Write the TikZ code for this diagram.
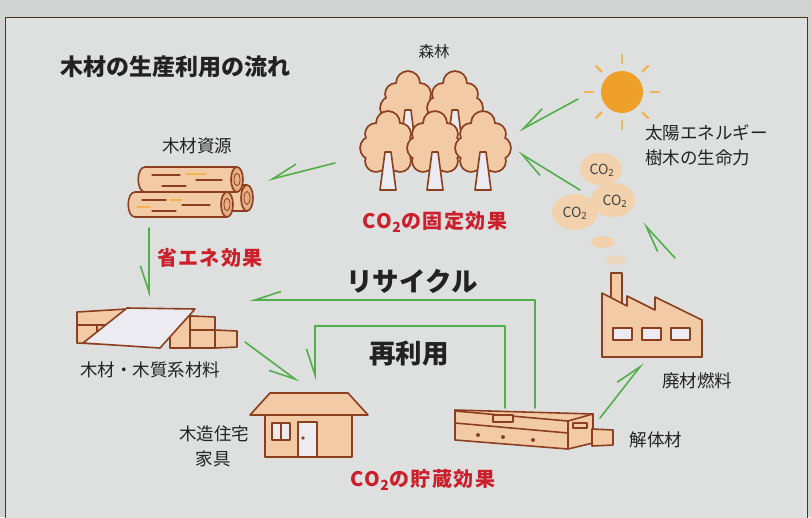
\documentclass[tikz,border=0pt]{standalone}
\usepackage{fontspec}
\setmainfont{Noto Sans CJK JP}
\usetikzlibrary{arrows.meta}

\definecolor{bgpaper}{HTML}{DDE0DF}
\definecolor{bgedge}{HTML}{D0D3D1}
\definecolor{woodfill}{HTML}{F2CBA6}
\definecolor{woodend}{HTML}{E6B084}
\definecolor{woodline}{HTML}{8C3F1F}
\definecolor{paleboard}{HTML}{ECEBF2}
\definecolor{leafgreen}{HTML}{52AE4A}
\definecolor{effectred}{HTML}{CC1F2B}
\definecolor{sunorange}{HTML}{EFA02A}
\definecolor{sunray}{HTML}{F3B451}
\definecolor{cobubble}{HTML}{F1D2AD}
\definecolor{inkgray}{HTML}{222222}

% crown of one tree, (#1,#2) = top of the crown
\newcommand{\crownat}[2]{%
  \begin{scope}[shift={(#1,#2)}]
    \foreach \cx/\cy/\cr in {0/11/11,-12/22/10,12/22/10,-16/36/11,16/36/11,-12/49/10,12/49/10,0/38/17,0/50/10}
      \draw[woodline, line width=3.6pt] (\cx,\cy) circle (\cr);
    \foreach \cx/\cy/\cr in {0/11/11,-12/22/10,12/22/10,-16/36/11,16/36/11,-12/49/10,12/49/10,0/38/17,0/50/10}
      \fill[woodfill] (\cx,\cy) circle (\cr);
  \end{scope}}
% trunk: centre x, top y, bottom y
\newcommand{\trunkat}[3]{%
  \filldraw[fill=paleboard, draw=woodline, line width=1.6pt]
    (#1-3,#2) -- (#1+3,#2) -- (#1+8,#3) -- (#1-8,#3) -- cycle;}
% log: left x, end x, top y, bottom y
\newcommand{\logat}[4]{%
  \filldraw[fill=woodfill, draw=woodline, line width=1.6pt]
    (#2,#3) -- (#1+7,#3) .. controls (#1-2,#3) and (#1-2,#4) .. (#1+7,#4) -- (#2,#4);
  \filldraw[fill=woodend, draw=woodline, line width=1.6pt] (#2,{(#3+#4)/2}) ellipse [x radius=6, y radius={(#4-#3)/2}];
  \draw[woodline, line width=0.8pt] (#2,{(#3+#4)/2}) ellipse [x radius=3, y radius={(#4-#3)/4}];}

\begin{document}
\begin{tikzpicture}[x=1pt, y=-1pt, line join=round, line cap=round,
    label/.style={text=inkgray, inner sep=0pt, font=\fontsize{17.5}{18}\selectfont},
    effect/.style={text=effectred, inner sep=0pt, font=\fontsize{20}{20}\selectfont\bfseries\addfontfeature{LetterSpace=7}},
    route/.style={text=inkgray, inner sep=0pt, font=\fontsize{26.5}{27}\selectfont\bfseries},
    bubble/.style={text=inkgray!85, inner sep=0pt, font=\fontsize{14}{14}\selectfont},
    part/.style={fill=woodfill, draw=woodline, line width=1.6pt},
    pale/.style={fill=paleboard, draw=woodline, line width=1.6pt},
    flow/.style={draw=leafgreen, line width=1.6pt},
    barbL/.style={flow, -{Straight Barb[harpoon, length=26pt, width=17pt]}},
    barbR/.style={flow, -{Straight Barb[harpoon, swap, length=26pt, width=17pt]}}]
  \useasboundingbox (0,0) rectangle (811,517);
  \fill[bgedge] (0,0) rectangle (811,517);
  \filldraw[fill=bgpaper, draw=black!60!brown, line width=0.8pt] (5,17) rectangle (807,530);

  \node[anchor=west, text=inkgray, inner sep=0pt, font=\fontsize{23}{24}\selectfont\bfseries] (title) at (60,67) {木材の生産利用の流れ};

  % forest: back row, then front row
  \crownat{408}{72} \crownat{455}{72}
  \trunkat{408}{110}{150} \trunkat{455}{110}{150}
  \crownat{388}{112} \crownat{435}{112} \crownat{483}{112}
  \trunkat{388}{152}{190} \trunkat{435}{152}{190} \trunkat{483}{152}{190}
  \node[label, font=\fontsize{15.5}{16}\selectfont] (forest) at (434,52) {森林};
  \node[effect] (fix) at (435,222) {CO\textsubscript{2}の固定効果};

  % sun
  \fill[sunorange] (622,92) circle (21);
  \foreach \a in {0,45,...,315}
    \draw[sunray, line width=2.2pt, shift={(622,92)}] (\a:29) -- (\a:37);
  \node[label, anchor=west] (sunA) at (645,133) {太陽エネルギー};
  \node[label, anchor=west] (sunB) at (645,158) {樹木の生命力};

  % CO2 rising from the factory
  \fill[cobubble!70!bgpaper] (616,260) ellipse [x radius=10, y radius=5];
  \fill[cobubble] (603,242) ellipse [x radius=12, y radius=6];
  \fill[cobubble] (575,212) ellipse [x radius=23, y radius=18];
  \fill[cobubble] (613,200) ellipse [x radius=22, y radius=17];
  \fill[cobubble] (601,169) ellipse [x radius=21, y radius=16];
  \node[bubble] (co2a) at (602,170) {CO\textsubscript{2}};
  \node[bubble] (co2b) at (615,201) {CO\textsubscript{2}};
  \node[bubble] (co2c) at (575,213) {CO\textsubscript{2}};

  % logs
  \logat{225}{247}{185}{211}
  \logat{138}{237}{167}{192}
  \logat{128}{227}{192}{217}
  \draw[woodline, line width=1.2pt] (152,175) -- (180,175) (196,180) -- (222,180) (162,186) -- (186,186)
    (142,200) -- (166,200) (182,205) -- (210,205) (152,211) -- (176,211);
  \draw[sunray, line width=1.2pt] (186,174) -- (206,174) (170,200) -- (182,200) (137,207) -- (150,207);
  \node[label] (wood) at (197,146) {木材資源};
  \node[effect] (save) at (210,258) {省エネ効果};

  % lumber and boards
  \filldraw[part] (77,312) -- (127,309) -- (127,345) -- (77,343) -- cycle;
  \draw[woodline, line width=1.6pt] (77,325) -- (120,325) (97,325) -- (97,343);
  \filldraw[part] (170,315) -- (215,317) -- (215,348) -- (170,348) -- cycle;
  \draw[woodline, line width=1.6pt] (190,330) -- (215,330) (190,315) -- (190,348);
  \filldraw[part] (215,330) -- (237,331) -- (237,347) -- (215,348) -- cycle;
  \filldraw[pale] (83,343) -- (127,308) -- (195,309) -- (160,348) -- cycle;
  \node[label] (board) at (150,370) {木材・木質系材料};

  % house
  \filldraw[part] (250,415) -- (270,393) -- (348,393) -- (368,415) -- cycle;
  \filldraw[part] (265,415) rectangle (352,457);
  \filldraw[pale] (272,423) rectangle (290,440);
  \draw[woodline, line width=1.6pt] (281,423) -- (281,440);
  \filldraw[pale] (298,422) rectangle (317,457);
  \fill[woodline] (303,438) circle (1.8);
  \node[label] (houseA) at (214,434) {木造住宅};
  \node[label] (houseB) at (213,459) {家具};
  \node[effect] (store) at (423,480) {CO\textsubscript{2}の貯蔵効果};

  % demolition wood
  \filldraw[part] (455,410) -- (593,414) -- (593,443) -- (568,449) -- (455,440) -- cycle;
  \draw[woodline, line width=1.6pt] (455,423) -- (568,433) (568,421) -- (568,449) (455,411) -- (568,421) -- (593,414);
  \filldraw[part] (592,429) -- (613,430) -- (613,445) -- (592,446) -- cycle;
  \filldraw[part] (493,415) rectangle (513,422);
  \filldraw[part] (573,423) rectangle (587,428);
  \foreach \dx/\dy in {478/435, 503/437, 533/440}
    \fill[woodline] (\dx,\dy) circle (2);
  \node[label] (scrap) at (656,440) {解体材};

  % factory
  \filldraw[part] (611,273) rectangle (622,303);
  \filldraw[part] (602,357) -- (602,293) -- (627,306) -- (627,296) -- (655,310) -- (655,297) -- (702,320) -- (702,357) -- cycle;
  \foreach \wx in {613,642,671}
    \filldraw[pale] (\wx,328) rectangle (\wx+19,340);
  \node[label] (fuel) at (697,381) {廃材燃料};

  % flow of wood
  \coordinate (forest-out) at (335,163);  \coordinate (wood-in) at (268,180);
  \coordinate (sun-out) at (578,99);      \coordinate (forest-sun) at (519,131);
  \coordinate (co2-out) at (580,190);     \coordinate (forest-co2) at (518,152);
  \coordinate (factory-out) at (675,258); \coordinate (co2-in) at (643,223);
  \coordinate (wood-out) at (149,228);    \coordinate (board-in) at (149,297);
  \coordinate (board-out) at (245,342);   \coordinate (house-in) at (299,382);
  \coordinate (scrap-reuse) at (505,408); \coordinate (house-reuse) at (315,380);
  \coordinate (scrap-recycle) at (535,408); \coordinate (board-recycle) at (250,300);
  \coordinate (scrap-out) at (600,418);   \coordinate (factory-in) at (643,363);

  \draw[barbR] (forest-out) -- (wood-in);
  \draw[barbR] (sun-out) -- (forest-sun);
  \draw[barbL] (co2-out) -- (forest-co2);
  \draw[barbL] (factory-out) -- (co2-in);
  \draw[barbR] (wood-out) -- (board-in);
  \draw[barbR] (board-out) -- (house-in);
  \draw[barbR] (scrap-reuse) |- (house-reuse |- 0,326) -- (house-reuse);
  \draw[barbR] (scrap-recycle) |- (board-recycle);
  \draw[barbL] (scrap-out) -- (factory-in);
  \node[route] (recycle) at (412,281) {リサイクル};
  \node[route] (reuse) at (409,354) {再利用};
\end{tikzpicture}
\end{document}
